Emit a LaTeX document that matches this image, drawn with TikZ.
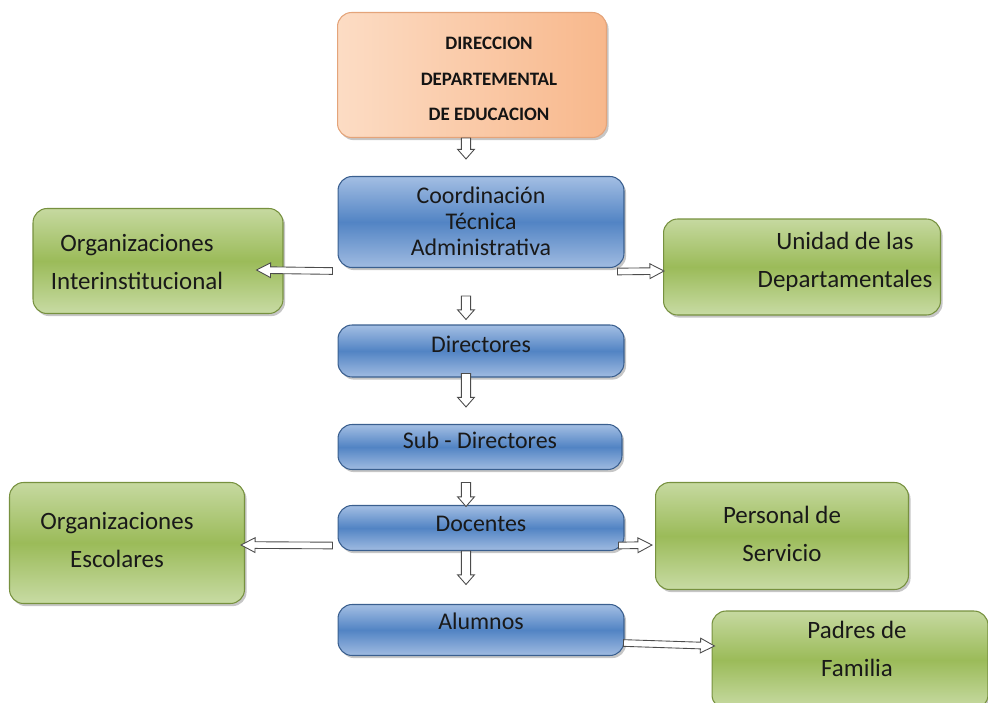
\documentclass[tikz,border=0pt]{standalone}
\usepackage{fontspec}
\setmainfont{Carlito}
\usetikzlibrary{calc,shadows}

\definecolor{bluetop}{HTML}{A3BEE3}
\definecolor{bluemid}{HTML}{5284C4}
\definecolor{bluebot}{HTML}{A0BBE1}
\definecolor{blueline}{HTML}{3A5F8F}
\definecolor{greentop}{HTML}{C6D9A0}
\definecolor{greenmid}{HTML}{9BBB59}
\definecolor{greenbot}{HTML}{C8DBA4}
\definecolor{greenline}{HTML}{77913F}
\definecolor{orangeL}{HTML}{FCDCC4}
\definecolor{orangeR}{HTML}{F8B88C}
\definecolor{orangeline}{HTML}{E4A47A}

\tikzset{
  box/.style={rounded corners=8pt, inner sep=0pt, line width=0.6pt, text=black!90,
    drop shadow={shadow xshift=1.2pt, shadow yshift=-1.5pt, opacity=0.45}},
  bluebox/.style={box, draw=blueline, top color=bluetop, bottom color=bluebot, middle color=bluemid,
    font=\fontsize{13.6}{14.7}\selectfont, align=center, text depth=8pt},
  greenbox/.style={box, draw=greenline, top color=greentop, bottom color=greenbot, middle color=greenmid},
  greentext/.style={font=\fontsize{14.2}{21.5}\selectfont, align=center, text=black!90, inner sep=0pt},
  orangebox/.style={box, draw=orangeline, left color=orangeL, right color=orangeR},
  orangetext/.style={font=\fontsize{10.8}{20.4}\selectfont\bfseries, align=center, text=black!92, inner sep=0pt},
  hollow/.style n args={3}{draw=black!70, fill=white, line width=0.5pt,
    to path={let \p1=(\tikztostart), \p2=(\tikztotarget),
      \n1={atan2(\y2-\y1,\x2-\x1)}, \n2={veclen(\x2-\x1,\y2-\y1)} in
      {[shift={(\p1)}, rotate=\n1]
      (0pt,#1) -- ({\n2*1pt-#3},#1) -- ({\n2*1pt-#3},#2) -- ({\n2*1pt},0pt)
      -- ({\n2*1pt-#3},-#2) -- ({\n2*1pt-#3},-#1) -- (0pt,-#1) -- cycle}}},
  vflow/.style={hollow={2.6pt}{4.8pt}{5.5pt}},
  hflow/.style={hollow={1.9pt}{4.2pt}{8pt}}
}

\begin{document}
\begin{tikzpicture}[x=0.02cm,y=-0.02cm]
\useasboundingbox (0,0) rectangle (988,703);

\node[orangebox, minimum width=5.38cm, minimum height=2.5cm] (dde) at (472,75) {};
\node[orangetext] (ddetxt) at (489,79) {DIRECCION\\DEPARTEMENTAL\\DE EDUCACION};
\node[bluebox, minimum width=5.72cm, minimum height=1.82cm, text depth=1pt] (cta) at (481,222) {Coordinación\\Técnica\\Administrativa};
\node[bluebox, minimum width=5.72cm, minimum height=1.04cm] (dir) at (481,351) {Directores};
\node[bluebox, minimum width=5.68cm, minimum height=0.9cm] (sub) at (480,447) {Sub - Directores};
\node[bluebox, minimum width=5.72cm, minimum height=0.9cm, text depth=5pt] (doc) at (481,528) {Docentes};
\node[bluebox, minimum width=5.72cm, minimum height=1.02cm, text depth=10pt] (alu) at (481,630) {Alumnos};

\node[greenbox, minimum width=5cm, minimum height=2.1cm] (oi) at (158,261) {};
\node[greentext] (oitxt) at (137,262) {Organizaciones\\Interinstitucional};
\node[greenbox, minimum width=5.54cm, minimum height=1.92cm] (ud) at (802,267) {};
\node[greentext] (udtxt) at (845,262) {Unidad de las\\Departamentales};
\node[greenbox, minimum width=4.7cm, minimum height=2.42cm] (oe) at (127,543) {};
\node[greentext] (oetxt) at (117,540) {Organizaciones\\Escolares};
\node[greenbox, minimum width=5.06cm, minimum height=2.14cm] (ps) at (782,536) {};
\node[greentext] (pstxt) at (782,534) {Personal de\\Servicio};
\node[greenbox, minimum width=5.52cm, minimum height=1.96cm] (pf) at (850,660) {};
\node[greentext] (pftxt) at (857,649) {Padres de\\Familia};

\draw[vflow] ($(dde.south)+(-6,0)$) to ($(cta.north)+(-15,-17)$);
\draw[vflow] ($(cta.south)+(-15,28)$) to ($(dir.north)+(-15,-5)$);
\draw[vflow] ($(dir.south)+(-15,-4)$) to ($(sub.north)+(-14,-17)$);
\draw[vflow] ($(sub.south)+(-14,12.5)$) to ($(doc.north)+(-15,1.5)$);
\draw[vflow] ($(doc.south)+(-15,0)$) to ($(alu.north)+(-15,-19.5)$);
\draw[hflow] ($(cta.south west)+(-5,3)$) to ($(oi.east)+(-27,9)$);
\draw[hflow] ($(cta.south east)+(-7,3.5)$) to ($(ud.west)+(1,4)$);
\draw[hflow] ($(doc.south west)+(-5,-5.5)$) to ($(oe.east)+(-4,2)$);
\draw[hflow] ($(doc.south east)+(-6,-5.5)$) to ($(ps.west)+(-3,9)$);
\draw[hflow] ($(alu.east)+(-1,13)$) to ($(pf.west)+(3,-14)$);
\end{tikzpicture}
\end{document}
